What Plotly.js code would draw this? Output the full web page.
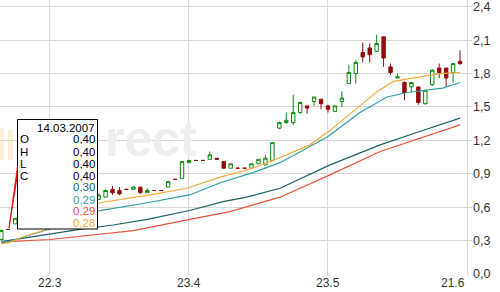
<!DOCTYPE html>
<html>
<head>
<meta charset="utf-8">
<script src="https://cdn.plot.ly/plotly-3.0.1.min.js"></script>
<style>html,body{margin:0;padding:0;background:#fff}#chart{width:500px;height:292px}</style>
</head>
<body>
<div id="chart"></div>
<script>
// ---- data ----
// trading-day candles, first one is 13.03.2007, second 14.03.2007
const firstLabelDate = '14.03.2007';
const O = [0.31,0.40,0.45,0.50,0.55,0.60,0.58,0.63,0.66,0.64,0.68,0.68,0.66,0.70,0.67,0.69,0.76,0.75,0.76,0.76,0.78,0.73,0.75,0.75,0.78,0.85,0.86,1.00,1.02,1.02,1.03,1.04,1.01,0.95,0.95,0.95,0.95,0.99,0.98,1.02,1.31,1.36,1.36,1.45,1.51,1.55,1.57,1.51,1.46,1.55,1.71,1.80,1.99,2.03,2.00,2.13,1.86,1.76,1.72,1.68,1.68,1.53,1.70,1.85,1.85,1.81,1.91];
const H = [0.40,0.40,0.50,0.55,0.61,0.61,0.64,0.67,0.66,0.69,0.68,0.69,0.71,0.70,0.72,0.76,0.79,0.78,0.76,0.79,0.78,0.77,0.75,0.75,0.83,0.85,1.01,1.02,1.02,1.02,1.10,1.04,1.01,0.99,0.95,0.95,0.99,1.03,1.07,1.18,1.37,1.45,1.61,1.55,1.51,1.59,1.57,1.52,1.51,1.64,1.88,1.92,2.08,2.07,2.15,2.13,1.89,1.80,1.73,1.72,1.68,1.65,1.84,1.89,1.85,1.89,2.01];
const L = [0.30,0.40,0.45,0.49,0.54,0.57,0.58,0.62,0.63,0.64,0.68,0.65,0.66,0.67,0.67,0.69,0.71,0.71,0.76,0.76,0.72,0.73,0.75,0.75,0.78,0.85,0.86,1.00,1.02,1.02,1.03,1.03,0.95,0.95,0.95,0.95,0.95,0.99,0.98,1.02,1.30,1.35,1.34,1.44,1.44,1.51,1.48,1.45,1.46,1.50,1.71,1.71,1.90,1.90,2.00,1.86,1.79,1.76,1.56,1.63,1.52,1.52,1.69,1.76,1.68,1.72,1.88];
const C = [0.39,0.40,0.50,0.55,0.60,0.58,0.63,0.66,0.64,0.68,0.68,0.66,0.70,0.68,0.71,0.75,0.73,0.72,0.76,0.78,0.73,0.75,0.75,0.75,0.83,0.85,1.01,1.02,1.02,1.02,1.07,1.03,0.95,0.99,0.95,0.95,0.99,1.03,1.04,1.18,1.36,1.38,1.45,1.54,1.49,1.59,1.53,1.48,1.51,1.58,1.81,1.90,1.95,1.97,2.07,1.94,1.81,1.77,1.63,1.72,1.54,1.65,1.83,1.81,1.76,1.89,1.89];

// moving averages, sampled along each line (trading-day position, value)
const maOrangeDay = [0,1,3,6.5,14.2,21.4,26.7,31.5,36.2,39.1,44.4,47.3,51.6,54.1,56.4,60.2,63.1,66];
const maOrangeVal = [0.27,0.28,0.33,0.40,0.64,0.71,0.77,0.87,0.95,1.02,1.16,1.29,1.51,1.64,1.73,1.77,1.80,1.81];
const maTealDay = [0,1,6.7,14.2,21,27.1,31.5,36.2,40.1,46.9,51.6,55.5,58.4,61.2,63.5,66];
const maTealVal = [0.29,0.29,0.40,0.57,0.64,0.71,0.82,0.91,1.00,1.23,1.45,1.59,1.63,1.65,1.67,1.72];
const maDarkDay = [0,1,11.3,16.1,21,27.1,31.9,35.3,40.1,47.3,54.5,60.2,66];
const maDarkVal = [0.29,0.30,0.40,0.44,0.49,0.57,0.65,0.69,0.77,0.98,1.16,1.28,1.40];
const maRedDay = [0,1,7,19,27.1,32.9,40.1,47.3,54.5,60.2,66];
const maRedVal = [0.28,0.29,0.31,0.39,0.49,0.56,0.69,0.89,1.10,1.22,1.34];

// tooltip values for 14.03.2007 (dark teal, teal, red, orange)
const tipMA = [0.30,0.29,0.29,0.28];
const tipLetters = ['O','H','L','C'];

// x ticks
const tickDay = [7,27,47,67];
const tickText = ['22.3','23.4','23.5','21.6'];
const yTicks = [0,0.3,0.6,0.9,1.2,1.5,1.8,2.1,2.4];

// ---- styles ----
const cGreen = '#0a8a0a', cDown = '#960a0a';
const cOrange = '#f2aa3c', cTeal = '#2f9fa6', cDark = '#1d6168', cRed = '#e6553a';
const font = 'Liberation Sans, Arial, sans-serif';

const day = O.map((_, k) => k);
const isUp = O.map((o, k) => C[k] > o);
const pick = (arr, want) => arr.map((v, k) => (isUp[k] === want ? v : null));

const traces = [
  {type:'scatter', mode:'lines', x:maRedDay, y:maRedVal, line:{color:cRed, width:1.2}, hoverinfo:'skip'},
  {type:'scatter', mode:'lines', x:maDarkDay, y:maDarkVal, line:{color:cDark, width:1.2}, hoverinfo:'skip'},
  {type:'scatter', mode:'lines', x:maTealDay, y:maTealVal, line:{color:cTeal, width:1.2}, hoverinfo:'skip'},
  {type:'scatter', mode:'lines', x:maOrangeDay, y:maOrangeVal, line:{color:cOrange, width:1.2}, hoverinfo:'skip'},
  {type:'candlestick', x:day, open:pick(O,true), high:pick(H,true), low:pick(L,true), close:pick(C,true),
   increasing:{line:{color:cGreen, width:1}, fillcolor:'#ffffff'},
   decreasing:{line:{color:cGreen, width:1}, fillcolor:'#ffffff'}, whiskerwidth:0, hoverinfo:'skip'},
  {type:'candlestick', x:day, open:pick(O,false), high:pick(H,false), low:pick(L,false), close:pick(C,false),
   increasing:{line:{color:cDown, width:1}, fillcolor:cDown},
   decreasing:{line:{color:cDown, width:1}, fillcolor:cDown}, whiskerwidth:0, hoverinfo:'skip'}
];

const W = 472, PH = 275;
const px = x => x / W;
const py = y => (PH - y) / PH;
const fmt = v => v.toFixed(2).replace('.', ',');

const ann = [];
// faint watermark (visible part to the right of the tooltip box)
ann.push({xref:'paper', yref:'paper', x:px(104), y:py(139), xanchor:'left', yanchor:'middle', showarrow:false,
  text:'<b>rect</b>', borderpad:0,
  font:{family:'Liberation Sans, Arial, sans-serif', size:50, color:'#eeeeee'}});
// x labels
tickDay.forEach((d, j) => ann.push({xref:'x', yref:'paper', x:d, y:py(283), xanchor: j === tickDay.length-1 ? 'right' : 'center',
  yanchor:'middle', showarrow:false, text:tickText[j], font:{family:font, size:12, color:'#333'}}));
// tooltip texts
const rowY = [127,139,151,163,175,187,199,210,222];
const tip = (x, xa, y, text, col) => ({xref:'paper', yref:'paper', x:px(x), y:py(y), xanchor:xa, yanchor:'middle',
  showarrow:false, text:text, font:{family:font, size:11.5, color:col}, borderpad:0, height:11});
ann.push(tip(96, 'right', rowY[0], firstLabelDate, '#000'));
const ohlc = [O[1], H[1], L[1], C[1]];
tipLetters.forEach((t, j) => {
  ann.push(tip(18.5, 'left', rowY[j+1], t, '#000'));
  ann.push(tip(96, 'right', rowY[j+1], fmt(ohlc[j]), '#000'));
});
const tipCols = [cDark, cTeal, cRed, cOrange];
tipMA.forEach((v, j) => ann.push(tip(96, 'right', rowY[j+5], fmt(v), tipCols[j])));

const shapes = [
  // orange fragment of the watermark at the left edge
  {type:'rect', xref:'paper', yref:'paper', layer:'below', x0:px(0), x1:px(4), y0:py(160), y1:py(128), fillcolor:'#fdeed8', line:{width:0}},
  {type:'rect', xref:'paper', yref:'paper', layer:'below', x0:px(8), x1:px(13), y0:py(160), y1:py(130), fillcolor:'#fdeed8', line:{width:0}},
  // tooltip box
  {type:'rect', xref:'paper', yref:'paper', layer:'above', x0:px(17.5), x1:px(97.5), y0:py(229), y1:py(119.5),
   fillcolor:'#ffffff', line:{color:'#000000', width:1}},
  // tooltip pointer
  {type:'path', xref:'paper', yref:'paper', layer:'above',
   path:`M ${px(9)} ${py(228)} L ${px(17.5)} ${py(166)} L ${px(17.5)} ${py(175)} Z`,
   fillcolor:'#e00000', line:{color:'#e00000', width:0.8}}
];

const layout = {
  width:500, height:292, autosize:false,
  margin:{l:0, r:28, t:0, b:17, pad:0},
  paper_bgcolor:'#fff', plot_bgcolor:'#fff',
  showlegend:false, separators:',.',
  xaxis:{type:'linear', range:[-0.19, 67.72], tickvals:tickDay, showticklabels:false, showgrid:true, gridcolor:'#d9d9d9', gridwidth:1,
         zeroline:false, showline:false, ticks:'', rangeslider:{visible:false}, fixedrange:true},
  yaxis:{side:'right', range:[-0.009, 2.461], tickvals:yTicks, tickformat:'.1f', showgrid:true, gridcolor:'#d9d9d9', gridwidth:1,
         zeroline:false, showline:false, ticks:'', tickfont:{family:font, size:12.5, color:'#333'}, fixedrange:true},
  annotations:ann, shapes:shapes, hovermode:false
};

Plotly.newPlot('chart', traces, layout, {displayModeBar:false, staticPlot:true});
</script>
</body>
</html>
